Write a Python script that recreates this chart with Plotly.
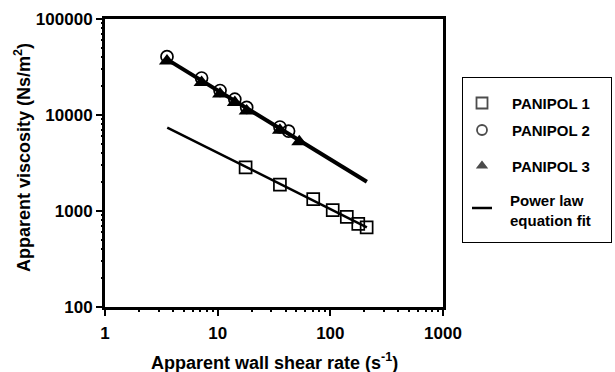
import plotly.graph_objects as go

# ---- data ----
p1_rate = [17.7, 35.7, 70.5, 105, 140, 177, 210]
p1_visc = [2850, 1880, 1330, 1020, 870, 735, 676]

p2_rate = [3.55, 7.2, 10.5, 14.2, 18.1, 35.7, 42.6]
p2_visc = [40500, 24300, 18000, 14600, 12000, 7500, 6800]

p3_rate = [3.55, 7.2, 10.5, 14.2, 18.1, 35.7, 53]
p3_visc = [36500, 21800, 16500, 13500, 11000, 6950, 5250]

fit1_rate = [3.57, 211]
fit1_visc = [7380, 676]
fit23_rate = [3.55, 211]
fit23_visc = [38000, 2020]

x_ticks = [1, 10, 100, 1000]
y_ticks = [100, 1000, 10000, 100000]

legend_names = ["PANIPOL 1", "PANIPOL 2", "PANIPOL 3", "Power law<br>equation fit"]

W, H = 615, 372
L, R, T, B = 105, 443, 19, 307  # plot box in pixels
FONT = "Liberation Sans, Arial, sans-serif"

# minor tick positions (2..9 within each decade)
x_minor = [m * d for d in (1, 10, 100) for m in range(2, 10)]
y_minor = [m * d for d in (100, 1000, 10000) for m in range(2, 10)]

fig = go.Figure()

# fit lines
fig.add_trace(go.Scatter(x=fit1_rate, y=fit1_visc, mode="lines",
                         line=dict(color="black", width=2.5), showlegend=False))
fig.add_trace(go.Scatter(x=fit23_rate, y=fit23_visc, mode="lines",
                         line=dict(color="black", width=4), showlegend=False))
# data
fig.add_trace(go.Scatter(x=p1_rate, y=p1_visc, mode="markers",
                         marker=dict(symbol="square-open", size=12, color="black",
                                     line=dict(width=1.7)), showlegend=False))
fig.add_trace(go.Scatter(x=p2_rate, y=p2_visc, mode="markers",
                         marker=dict(symbol="circle-open", size=12, color="black",
                                     line=dict(width=1.7)), showlegend=False))
fig.add_trace(go.Scatter(x=p3_rate, y=p3_visc, mode="markers",
                         marker=dict(symbol="triangle-up", size=14, color="black"),
                         showlegend=False))

# legend symbols on a helper axis in pixel units
leg_y = [103, 130, 166]
fig.add_trace(go.Scatter(x=[482, 482, 482], y=leg_y, mode="markers", xaxis="x2", yaxis="y2",
                         marker=dict(symbol=["square-open", "circle-open", "triangle-up"],
                                     size=[11, 10, 14], color="black", line=dict(width=1.8)),
                         showlegend=False, hoverinfo="skip"))
fig.add_trace(go.Scatter(x=[472, 492], y=[208, 208], mode="lines", xaxis="x2", yaxis="y2",
                         line=dict(color="black", width=2.5), showlegend=False, hoverinfo="skip"))

# invisible trace to activate minor-tick overlay axes
fig.add_trace(go.Scatter(x=[1], y=[100], xaxis="x3", yaxis="y3", mode="markers",
                         marker=dict(opacity=0), showlegend=False, hoverinfo="skip"))

annotations = []
for name, yy in zip(legend_names[:3], leg_y):
    annotations.append(dict(x=510, y=yy, xref="x2", yref="y2", text="<b>" + name + "</b>",
                            showarrow=False, xanchor="left", yanchor="middle",
                            font=dict(family=FONT, size=15, color="black")))
annotations.append(dict(x=508, y=210, xref="x2", yref="y2", text="<b>" + legend_names[3] + "</b>",
                        showarrow=False, xanchor="left", yanchor="middle", align="left",
                        font=dict(family=FONT, size=15, color="black")))

# axis titles
annotations.append(dict(x=274.5 / W, y=1 - 361 / H, xref="paper", yref="paper",
                        text="<b>Apparent wall shear rate (s<sup>-1</sup>)</b>", showarrow=False,
                        xanchor="center", yanchor="middle",
                        font=dict(family=FONT, size=18, color="black")))
annotations.append(dict(x=22 / W, y=1 - 158 / H, xref="paper", yref="paper",
                        text="<b>Apparent viscosity (Ns/m<sup>2</sup>)</b>", showarrow=False,
                        textangle=-90, xanchor="center", yanchor="middle",
                        font=dict(family=FONT, size=18, color="black")))

axis_common = dict(type="log", showgrid=False, zeroline=False, showline=True,
                   linecolor="black", linewidth=3, mirror=True,
                   ticks="outside", ticklen=6, tickwidth=2, tickcolor="black",
                   tickfont=dict(family=FONT, size=17, color="black"))

minor_common = dict(type="log", showgrid=False, zeroline=False, showline=False,
                    ticks="outside", ticklen=3.5, tickwidth=1.5, tickcolor="black",
                    showticklabels=False, fixedrange=True)

fig.update_layout(
    width=W, height=H,
    margin=dict(l=0, r=0, t=0, b=0, autoexpand=False),
    paper_bgcolor="white", plot_bgcolor="white",
    xaxis=dict(axis_common, range=[0, 3], domain=[L / W, R / W], ticklabelstandoff=3,
               tickvals=x_ticks, ticktext=["<b>%d</b>" % v for v in x_ticks]),
    yaxis=dict(axis_common, range=[2, 5], domain=[1 - B / H, 1 - T / H], ticklabelstandoff=0,
               tickvals=y_ticks, ticktext=["<b>%d</b>" % v for v in y_ticks]),
    xaxis3=dict(minor_common, range=[0, 3], overlaying="x", anchor="y", side="bottom",
                tickvals=x_minor),
    yaxis3=dict(minor_common, range=[2, 5], overlaying="y", anchor="x", side="left",
                tickvals=y_minor),
    xaxis2=dict(range=[462, 612], domain=[462 / W, 612 / W], visible=False,
                anchor="y2", fixedrange=True),
    yaxis2=dict(range=[243, 77], domain=[1 - 243 / H, 1 - 77 / H], visible=False,
                anchor="x2", fixedrange=True),
    shapes=[dict(type="rect", xref="x2", yref="y2", x0=462, x1=612, y0=77, y1=243,
                 line=dict(color="black", width=2))],
    annotations=annotations,
    showlegend=False,
)

fig.write_html("out.html", config={"displayModeBar": False},
               post_script="document.body.style.margin='0';document.body.style.overflow='hidden';")
